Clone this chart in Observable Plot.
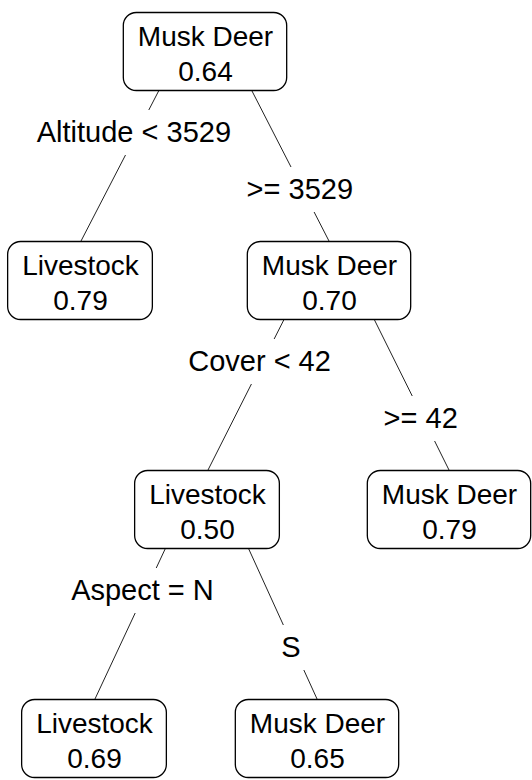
<!DOCTYPE html>
<html>
<head>
<meta charset="utf-8">
<script src="https://cdn.jsdelivr.net/npm/d3@7"></script>
<script src="https://cdn.jsdelivr.net/npm/@observablehq/plot@0.6"></script>
<style>
  html, body { margin: 0; padding: 0; background: #fff; }
  #chart svg { display: block; }
</style>
</head>
<body>
<div id="chart"></div>
<script>
// ---- data (rpart node numbering) ----
const nodeIds    = [1, 2, 3, 6, 7, 12, 13];
const nodeClass  = ["Musk Deer", "Livestock", "Musk Deer", "Livestock", "Musk Deer", "Livestock", "Musk Deer"];
const nodeProb   = [0.64, 0.79, 0.70, 0.50, 0.79, 0.69, 0.65];
const splitNodes = [1, 3, 6];
const splitLeft  = ["Altitude < 3529", "Cover < 42", "Aspect = N"];
const splitRight = [">= 3529", ">= 42", "S"];

// ---- diagram layout ----
const layoutX = [205, 80, 329, 207, 449, 94, 317];
const W = 532, H = 780;
const FONT = "'Liberation Sans', Arial, Helvetica, sans-serif";
const FS = 28, LFS = 29;
const rowTop = 51.5, rowStep = 229, boxH = 78, pad = 14;

const ctx = document.createElement("canvas").getContext("2d");
ctx.font = `${FS}px ${FONT}`;
const tw = s => ctx.measureText(s).width;

const nodes = nodeIds.map((id, i) => {
  const depth = Math.floor(Math.log2(id));
  const label = nodeClass[i];
  const prob = nodeProb[i].toFixed(2);
  const w = Math.max(tw(label), tw(prob)) + 2 * pad;
  const x = layoutX[i], y = rowTop + depth * rowStep;
  return {id, depth, label, prob, text: label + "\n" + prob, x, y,
          x1: x - w / 2, x2: x + w / 2, y1: y - boxH / 2, y2: y + boxH / 2};
});
const byId = new Map(nodes.map(d => [d.id, d]));

const segs = [], labels = [];
splitNodes.forEach((pid, k) => {
  const p = byId.get(pid);
  [[2 * pid, splitLeft[k], 42], [2 * pid + 1, splitRight[k], 99]].forEach(([cid, txt, off]) => {
    const c = byId.get(cid);
    const xa = p.x + 0.375 * (c.x - p.x), ya = p.y2;
    const xb = c.x, yb = c.y1;
    const at = yy => xa + (xb - xa) * (yy - ya) / (yb - ya);
    const ly = ya + off;
    labels.push({x: at(ly) - 3, y: ly, text: txt});
    segs.push({x1: xa, y1: ya, x2: at(ly - 23), y2: ly - 23});
    segs.push({x1: at(ly + 22), y1: ly + 22, x2: xb, y2: yb});
  });
});

const chart = Plot.plot({
  width: W, height: H,
  margin: 0,
  x: {domain: [0, W], range: [0, W], axis: null},
  y: {domain: [0, H], range: [0, H], axis: null},
  style: {fontFamily: FONT, background: "white"},
  marks: [
    Plot.link(segs, {x1: "x1", y1: "y1", x2: "x2", y2: "y2", stroke: "#222", strokeWidth: 1}),
    Plot.rect(nodes, {x1: "x1", x2: "x2", y1: "y1", y2: "y2", fill: "white", stroke: "black", strokeWidth: 1.3, rx: 13}),
    Plot.text(nodes, {x: "x", y: "y", text: "text", fontSize: FS, lineHeight: 1.25, fill: "black", textAnchor: "middle"}),
    Plot.text(labels, {x: "x", y: "y", text: "text", fontSize: LFS, fill: "black", textAnchor: "middle"})
  ]
});
document.getElementById("chart").appendChild(chart);
</script>
</body>
</html>
